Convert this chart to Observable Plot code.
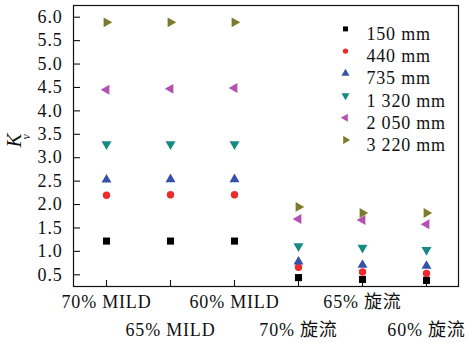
<!DOCTYPE html>
<html>
<head>
<meta charset="utf-8">
<script src="https://cdn.jsdelivr.net/npm/d3@7"></script>
<script src="https://cdn.jsdelivr.net/npm/@observablehq/plot@0.6"></script>
<style>
  html, body { margin: 0; padding: 0; background: #fff; }
  #chart svg { display: block; }
</style>
</head>
<body>
<div id="chart"></div>
<script>
const categories = ["70% MILD", "65% MILD", "60% MILD", "70% 旋流", "65% 旋流", "60% 旋流"];
const seriesNames = ["150 mm", "440 mm", "735 mm", "1 320 mm", "2 050 mm", "3 220 mm"];
const kv150  = [1.22, 1.22, 1.22, 0.44, 0.40, 0.38];
const kv440  = [2.20, 2.21, 2.21, 0.66, 0.56, 0.53];
const kv735  = [2.53, 2.54, 2.54, 0.78, 0.71, 0.69];
const kv1320 = [3.29, 3.29, 3.29, 1.11, 1.08, 1.03];
const kv2050 = [4.45, 4.47, 4.49, 1.69, 1.67, 1.58];
const kv3220 = [5.89, 5.89, 5.89, 1.95, 1.82, 1.82];
const yTicks = [0.5, 1.0, 1.5, 2.0, 2.5, 3.0, 3.5, 4.0, 4.5, 5.0, 5.5, 6.0];

const seriesValues = [kv150, kv440, kv735, kv1320, kv2050, kv3220];
const colors = ["#000000", "#ee2a2a", "#3552a8", "#188a84", "#b450b4", "#7d7b2c"];
const symbols = ["square", "circle", "triangle", "triangle", "triangle", "triangle"];
const rotations = [0, 0, 0, 180, -90, 90];
const sizes = [4.0, 3.7, 3.7, 3.7, 3.7, 3.7];
const legendSizes = [2.8, 2.7, 3.0, 3.0, 3.0, 3.0];

const FONT = "Liberation Serif, Times New Roman, Noto Sans CJK SC";

const rows = seriesNames.flatMap((s, i) =>
  categories.map((c, j) => ({series: s, idx: i, cat: c, kv: seriesValues[i][j]})));

const dataMarks = seriesNames.map((s, i) =>
  Plot.dot(rows.filter(d => d.idx === i), {
    x: "cat", y: "kv", symbol: symbols[i], rotate: rotations[i],
    fill: colors[i], stroke: "none", r: sizes[i]
  }));

const legendMarks = seriesNames.flatMap((s, i) => [
  Plot.dot([s], {frameAnchor: "top-left", dx: 272, dy: 23.4 + i * 22.2,
    symbol: symbols[i], rotate: rotations[i], fill: colors[i], stroke: "none", r: legendSizes[i]}),
  Plot.text([s], {frameAnchor: "top-left", dx: 293, dy: 21.7 + i * 22.2, text: d => d,
    textAnchor: "start", fontSize: 18, fontFamily: FONT, fill: "#111"})
]);

const chart = Plot.plot({
  width: 470,
  height: 343,
  marginLeft: 73,
  marginRight: 12,
  marginTop: 5,
  marginBottom: 57,
  style: {fontSize: "18px", fontFamily: FONT, color: "#111", background: "#fff", letterSpacing: "0.8px"},
  x: {type: "point", domain: categories, padding: 0.5, align: 0.5},
  y: {domain: [0.25, 6.25]},
  marks: [
    Plot.axisY(yTicks, {tickSize: -7, tickPadding: 18, tickFormat: d3.format(".1f"), label: null, strokeWidth: 1.1, fontSize: 18, fontFamily: FONT}),
    Plot.axisX({tickSize: -6, text: null, label: null, strokeWidth: 1.1}),
    Plot.axisX(categories.filter((c, j) => j % 2 === 0), {tickSize: 0, tickPadding: 9, label: null, fontSize: 18, fontFamily: FONT}),
    Plot.axisX(categories.filter((c, j) => j % 2 === 1), {tickSize: 0, tickPadding: 37, label: null, fontSize: 18, fontFamily: FONT}),
    Plot.frame({stroke: "#111", strokeWidth: 1.2}),
    Plot.text(["K"], {frameAnchor: "left", dx: -59, dy: 1.5, text: d => d, rotate: -90,
      fontSize: 21, fontStyle: "italic", fontFamily: FONT}),
    Plot.text(["v"], {frameAnchor: "left", dx: -47, dy: -6.5, text: d => d, rotate: -90,
      fontSize: 12, fontStyle: "italic", fontFamily: FONT}),
    ...dataMarks,
    ...legendMarks
  ]
});

document.getElementById("chart").appendChild(chart);
</script>
</body>
</html>
